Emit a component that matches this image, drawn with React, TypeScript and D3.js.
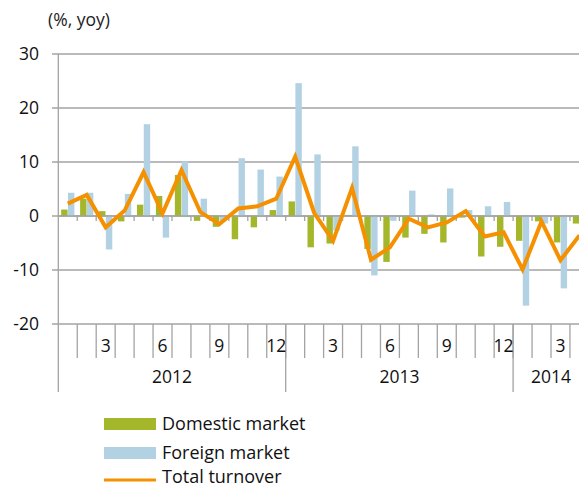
import * as d3 from "d3";

// monthly yoy change, Jan 2012 .. Apr 2014
const months = d3.range(28);
const monthLabels = ["", "", "3", "", "", "6", "", "", "9", "", "", "12",
  "", "", "3", "", "", "6", "", "", "9", "", "", "12",
  "", "", "3", ""];
const years = [
  { label: "2012", from: 0, to: 12 },
  { label: "2013", from: 12, to: 24 },
  { label: "2014", from: 24, to: 28 },
];
const domestic = [1.2, 3.2, 0.9, -1.0, 2.1, 3.7, 7.6, -0.9, -2.0, -4.3, -2.1, 1.1,
  2.7, -5.8, -5.1, 0.2, -6.1, -8.5, -4.0, -3.3, -4.9, -0.3, -7.5, -5.7,
  -4.6, -1.0, -4.9, -1.4];
const foreign = [4.3, 4.3, -6.2, 4.1, 17.0, -4.0, 10.1, 3.2, -1.0, 10.7, 8.6, 7.3,
  24.6, 11.4, -2.7, 12.9, -11.0, -0.9, 4.7, 0.3, 5.1, 1.1, 1.8, 2.6,
  -16.6, -1.4, -13.4, -5.0];
const total = [2.3, 3.9, -2.1, 1.0, 8.1, 0.5, 8.5, 0.7, -1.5, 1.4, 1.8, 3.2,
  11.0, 0.6, -4.6, 5.2, -8.1, -5.8, -0.5, -2.1, -1.2, 0.9, -3.8, -3.0,
  -9.9, -1.0, -8.2, -3.6];
const yTicks = [30, 20, 10, 0, -10, -20];

const GREEN = "#a4b72a";
const BLUE = "#b2d1e3";
const ORANGE = "#f59100";
const GRID = "#a3a3a3";
const FONT = "'Open Sans', Lato, sans-serif";

export default function App() {
  const width = 579;
  const height = 490;
  const left = 58.3;
  const step = 18.95;

  const x = d3.scaleBand<number>()
    .domain(months)
    .range([left, left + step * months.length]);
  const x1 = d3.scaleBand<string>()
    .domain(["dom", "for"])
    .range([0, x.bandwidth()])
    .paddingInner(0.06)
    .paddingOuter(0.42);
  const y = d3.scaleLinear().domain([-20, 30]).range([324, 54]);

  const line = d3.line<number>()
    .x((_, i) => (x(i) ?? 0) + x.bandwidth() / 2)
    .y((d) => y(d));

  const right = x.range()[1];
  const base = y(-20);

  return (
    <svg
      width={width}
      height={height}
      viewBox={`0 0 ${width} ${height}`}
      style={{ position: "absolute", left: 0, top: 0, background: "#fff" }}
      fontFamily={FONT}
    >
      <text x={48} y={20} dy="0.36em" fontSize={17.5} fill="#222">(%, yoy)</text>

      {/* gridlines + y ticks */}
      {yTicks.map((t) => (
        <g key={t}>
          <line x1={52} x2={right} y1={y(t)} y2={y(t)} stroke={GRID} strokeWidth={1.3} />
          <text x={39} y={y(t)} dy="0.36em" textAnchor="end" fontSize={17.5} fill="#111">
            {t}
          </text>
        </g>
      ))}

      {/* bars */}
      <g>
        {months.map((m) => {
          const v = domestic[m];
          return (
            <rect key={"d" + m} x={(x(m) ?? 0) + (x1("dom") ?? 0)} width={x1.bandwidth()}
              y={y(Math.max(0, v))} height={Math.abs(y(v) - y(0))} fill={GREEN} />
          );
        })}
        {months.map((m) => {
          const v = foreign[m];
          return (
            <rect key={"f" + m} x={(x(m) ?? 0) + (x1("for") ?? 0)} width={x1.bandwidth()}
              y={y(Math.max(0, v))} height={Math.abs(y(v) - y(0))} fill={BLUE} />
          );
        })}
      </g>

      {/* zero line and tick marks on it */}
      <line x1={left} x2={right} y1={y(0)} y2={y(0)} stroke={GRID} strokeWidth={1.3} />
      {months.map((m) => (
        <line key={"z" + m} x1={(x(m) ?? 0) + step} x2={(x(m) ?? 0) + step}
          y1={y(0)} y2={y(0) + 5} stroke={GRID} strokeWidth={1.3} />
      ))}

      {/* y axis */}
      <line x1={left} x2={left} y1={y(30)} y2={392} stroke={GRID} strokeWidth={1.3} />

      {/* category axis */}
      {months.map((m) => (
        <line key={"t" + m} x1={(x(m) ?? 0) + step} x2={(x(m) ?? 0) + step}
          y1={base} y2={358} stroke={GRID} strokeWidth={1.3} />
      ))}
      {years.map((yr) => (
        <line key={"ys" + yr.label} x1={left + yr.to * step} x2={left + yr.to * step}
          y1={base} y2={392} stroke={GRID} strokeWidth={1.3} />
      ))}
      {months.map((m) =>
        monthLabels[m] ? (
          <text key={"ml" + m} x={(x(m) ?? 0) + step / 2} y={346} dy="0.36em"
            textAnchor="middle" fontSize={17.5} fill="#111">
            {monthLabels[m]}
          </text>
        ) : null
      )}
      {years.map((yr) => (
        <text key={"yl" + yr.label} x={left + ((yr.from + yr.to) / 2) * step} y={377}
          dy="0.36em" textAnchor="middle" fontSize={17.5} fill="#111">
          {yr.label}
        </text>
      ))}

      {/* total turnover */}
      <path d={line(total) ?? ""} fill="none" stroke={ORANGE} strokeWidth={4} strokeLinejoin="miter" />

      {/* legend */}
      <g fontSize={18} fill="#111">
        <rect x={104} y={418} width={52} height={12} fill={GREEN} />
        <text x={162} y={424} dy="0.36em">Domestic market</text>
        <rect x={104} y={447} width={52} height={12} fill={BLUE} />
        <text x={162} y={453} dy="0.36em">Foreign market</text>
        <line x1={104} x2={156} y1={480} y2={480} stroke={ORANGE} strokeWidth={3} />
        <text x={162} y={477} dy="0.36em">Total turnover</text>
      </g>
    </svg>
  );
}
